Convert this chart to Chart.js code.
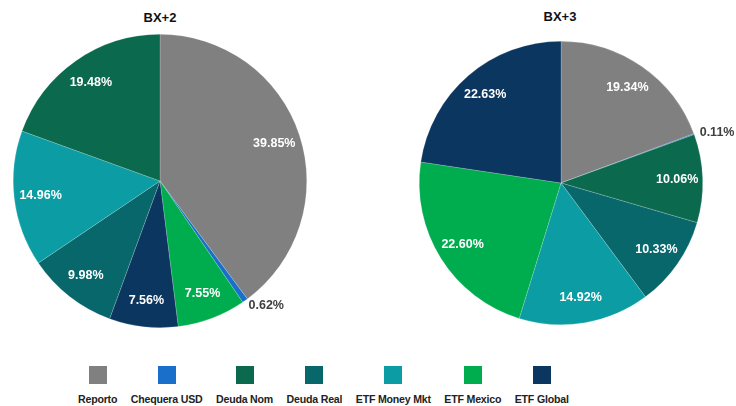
<!DOCTYPE html>
<html lang="es">
  <head>
    <meta charset="UTF-8" />
    <title>BX+2 / BX+3</title>
    <script src="https://cdn.jsdelivr.net/npm/chart.js"></script>
    <style>
      body { margin: 0; background: #fff; font-family: "Liberation Sans", Arial, sans-serif; }
      #wrap { position: relative; width: 736px; height: 406px; overflow: hidden; }
      canvas { position: absolute; top: 0; }
      .title { position: absolute; width: 120px; text-align: center; font-weight: bold; font-size: 13px; color: #111; }
      #legend { position: absolute; left: 78px; top: 366px; display: flex; gap: 13.5px; }
      .item { display: flex; flex-direction: column; align-items: center; }
      .box { width: 18px; height: 18px; }
      .lbl { margin-top: 9px; font-size: 10.6px; letter-spacing: -0.2px; font-weight: bold; color: #222; white-space: nowrap; }
    </style>
  </head>
  <body>
    <div id="wrap">
      <div class="title" style="left: 100px; top: 10px">BX+2</div>
      <div class="title" style="left: 500px; top: 9px">BX+3</div>
      <canvas id="c1" width="368" height="340" style="left: 0"></canvas>
      <canvas id="c2" width="368" height="340" style="left: 368px"></canvas>
      <div id="legend"></div>
    </div>
    <script>
      const categories = ["Reporto", "Chequera USD", "Deuda Nom", "Deuda Real", "ETF Money Mkt", "ETF Mexico", "ETF Global"];
      const colors = ["#808080", "#1a6fcb", "#0b6a4e", "#08676b", "#0b9da3", "#00ad4e", "#0b365f"];

      // BX+2 goes round in a different order than the legend
      const bx2Labels = ["Reporto", "Chequera USD", "ETF Mexico", "ETF Global", "Deuda Real", "ETF Money Mkt", "Deuda Nom"];
      const bx2Values = [39.85, 0.62, 7.55, 7.56, 9.98, 14.96, 19.48];

      const bx3Labels = ["Reporto", "Chequera USD", "Deuda Nom", "Deuda Real", "ETF Money Mkt", "ETF Mexico", "ETF Global"];
      const bx3Values = [19.34, 0.11, 10.06, 10.33, 14.92, 22.60, 22.63];

      const colorOf = (name) => colors[categories.indexOf(name)];

      // percentage labels: inside for big slices, outside for tiny ones
      const sliceLabels = {
        id: "sliceLabels",
        afterDatasetsDraw(chart) {
          const ctx = chart.ctx;
          const meta = chart.getDatasetMeta(0);
          const values = chart.data.datasets[0].data;
          ctx.save();
          ctx.font = "bold 12.5px 'Liberation Sans', Arial, sans-serif";
          ctx.textBaseline = "middle";
          meta.data.forEach((arc, i) => {
            const p = arc.getProps(["x", "y", "startAngle", "endAngle", "outerRadius"], true);
            const mid = (p.startAngle + p.endAngle) / 2;
            const text = values[i].toFixed(2) + "%";
            if (values[i] < 1) {
              const d = p.outerRadius + 6;
              ctx.fillStyle = "#404040";
              ctx.textAlign = "left";
              ctx.fillText(text, p.x + Math.cos(mid) * d, p.y + Math.sin(mid) * d);
            } else {
              const d = p.outerRadius * 0.82;
              ctx.fillStyle = "#ffffff";
              ctx.textAlign = "center";
              ctx.fillText(text, p.x + Math.cos(mid) * d, p.y + Math.sin(mid) * d);
            }
          });
          ctx.restore();
        },
      };

      function makePie(el, labels, values, padding) {
        return new Chart(el, {
          type: "pie",
          data: {
            labels: labels,
            datasets: [{
              data: values,
              backgroundColor: labels.map(colorOf),
              borderColor: "rgba(255,255,255,0.35)",
              borderWidth: 0.5,
            }],
          },
          options: {
            responsive: false,
            animation: false,
            layout: { padding: padding },
            plugins: { legend: { display: false }, tooltip: { enabled: false } },
          },
          plugins: [sliceLabels],
        });
      }

      makePie(document.getElementById("c1"), bx2Labels, bx2Values, { left: 13, right: 61, top: 34, bottom: 12 });
      makePie(document.getElementById("c2"), bx3Labels, bx3Values, { left: 51, right: 33, top: 41, bottom: 15 });

      const legend = document.getElementById("legend");
      categories.forEach((name, i) => {
        const item = document.createElement("div");
        item.className = "item";
        item.innerHTML = '<div class="box" style="background:' + colors[i] + '"></div><div class="lbl">' + name + "</div>";
        legend.appendChild(item);
      });
    </script>
  </body>
</html>
